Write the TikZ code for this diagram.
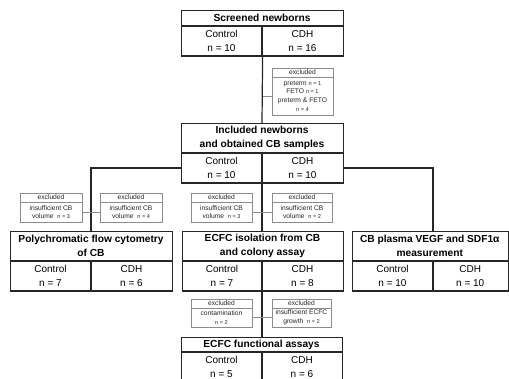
\documentclass[tikz,border=0pt]{standalone}
\usepackage{fontspec}
\setmainfont{Liberation Sans}
\usetikzlibrary{calc,positioning}

\tikzset{
  mainbox/.style={draw=black!85, line width=1.2pt, inner sep=0pt},
  exbox/.style={draw=black!45, line width=0.7pt, inner sep=0pt, fill=white},
  mainline/.style={black!85, line width=1.2pt},
  exline/.style={black!45, line width=0.7pt},
  celltext/.style={font=\fontsize{10}{12}\selectfont, inner sep=0pt},
  titletext/.style={font=\fontsize{10.2}{13.5}\selectfont\bfseries, align=center, inner sep=0pt},
  extext/.style={font=\fontsize{6.7}{8.6}\selectfont, align=center, inner sep=0pt, text=black!85},
}

\newcommand{\nsmall}[1]{{\fontsize{5.6}{6}\selectfont #1}}

% group box: name, left, top, width, divider, title height, title, n control, n CDH
\newcommand{\groupbox}[9]{%
  \node[mainbox, anchor=north west, minimum width=#4, minimum height=#6+29.5] (#1) at (#2,#3) {};
  \coordinate (#1-n) at (#2+#5,#3);
  \coordinate (#1-d) at (#2+#5,#3+#6);
  \coordinate (#1-w) at (#2,#3+#6+15);
  \coordinate (#1-e) at (#2+#4,#3+#6+15);
  \draw[mainline] (#2,#3+#6) -- (#2+#4,#3+#6);
  \draw[mainline] (#1-d) -- (#1-d |- #1.south);
  \node[titletext] (#1-title) at (#2+#4/2,#3+#6/2) {#7};
  \node[celltext] (#1-ctrl) at (#2+#5/2,#3+#6+8) {Control};
  \node[celltext] (#1-cdh) at (#2+#5/2+#4/2,#3+#6+8) {CDH};
  \node[celltext] (#1-nctrl) at (#2+#5/2,#3+#6+22) {n = #8};
  \node[celltext] (#1-ncdh) at (#2+#5/2+#4/2,#3+#6+22) {n = #9};
}

% excluded box: name, left, top, width, body height, body text
\newcommand{\exclbox}[6]{%
  \node[exbox, anchor=north west, minimum width=#4, minimum height=9+#5] (#1) at (#2,#3) {};
  \draw[exline] (#2,#3+9) -- (#2+#4,#3+9);
  \node[extext] (#1-head) at (#2+#4/2,#3+4.5) {excluded};
  \node[extext] (#1-body) at (#2+#4/2,#3+9+#5/2) {#6};
}

\begin{document}
\begin{tikzpicture}[x=1pt, y=-1pt]
        \useasboundingbox (0,0) rectangle (509,379);

        % Main boxes
        \groupbox{screened}{181}{10}{162}{81}{16}{Screened newborns}{10}{16}
        \groupbox{included}{181}{123}{162}{81}{30}{Included newborns\\and obtained CB samples}{10}{10}
        \groupbox{flow}{10}{231}{162}{81}{30}{Polychromatic flow cytometry\\of CB}{7}{6}
        \groupbox{isolation}{182}{231}{161}{80}{30}{ECFC isolation from CB\\and colony assay}{7}{8}
        \groupbox{plasma}{352}{231}{155.5}{81}{30}{CB plasma VEGF and SDF1α\\measurement}{10}{10}
        \groupbox{functional}{181}{337}{161}{81}{15}{ECFC functional assays}{5}{6}

        % Main connectors
        \draw[mainline] (screened.south) -- (included-n);
        \draw[mainline] (included-w) -| (flow-n);
        \draw[mainline] (included-e) -| (plasma-n);
        \draw[mainline] (included-d |- included.south) -- (isolation-n);
        \draw[mainline] (isolation-d |- isolation.south) -- (functional-n);

        % Exclusions
        \exclbox{excl0}{272}{68}{61}{38}{preterm \nsmall{n = 1}\\FETO \nsmall{n = 1}\\preterm \& FETO\\\nsmall{n = 4}}
        \exclbox{excl1}{20}{193}{62}{20}{insufficient CB\\volume \ \nsmall{n = 3}}
        \exclbox{excl2}{100}{193}{62}{20}{insufficient CB\\volume \ \nsmall{n = 4}}
        \exclbox{excl3}{191}{193}{61}{20}{insufficient CB\\volume \ \nsmall{n = 3}}
        \exclbox{excl4}{272}{193}{60}{20}{insufficient CB\\volume \ \nsmall{n = 2}}
        \exclbox{excl5}{191}{299}{61}{19}{contamination\\\nsmall{n = 2}}
        \exclbox{excl6}{272}{299}{59}{19}{insufficient ECFC\\growth \ \nsmall{n = 2}}

        \draw[exline] (screened.south |- excl0-body) -- (excl0.west |- excl0-body);
        \draw[exline] (excl1.east |- excl1-body) -- (excl2.west |- excl2-body);
        \draw[exline] (excl3.east |- excl3-body) -- (excl4.west |- excl4-body);
        \draw[exline] (excl5.east |- excl5-body) -- (excl6.west |- excl6-body);
\end{tikzpicture}
\end{document}
